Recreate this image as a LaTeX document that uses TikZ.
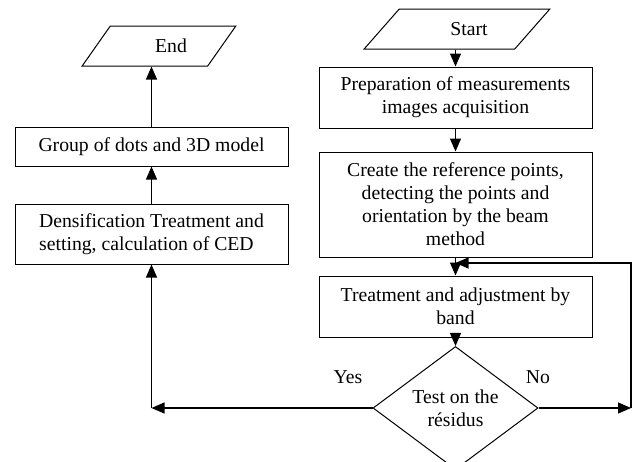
\documentclass[tikz,border=0pt]{standalone}
\usepackage{fontspec}
\setmainfont{Liberation Serif}
\usetikzlibrary{shapes.geometric,arrows.meta}

\begin{document}
\begin{tikzpicture}[x=1pt,y=-1pt,
		font=\fontsize{19.7}{23}\selectfont,
		box/.style={draw,line width=1pt,minimum width=273pt,inner sep=2pt,align=center},
		io/.style={draw,line width=1pt,trapezium,trapezium stretches=true,
			minimum height=40pt,inner sep=2pt},
		test/.style={draw,line width=1pt,diamond,minimum width=165pt,
			minimum height=101pt,inner sep=0pt,align=center},
		flow/.style={line width=1.1pt,-{Triangle[length=13pt,width=11pt]}}]
	\useasboundingbox (0,0) rectangle (636,461);

	%draw the right column
	\node[io,minimum width=186pt,trapezium left angle=41,trapezium right angle=139]
		(start) at (457,29) {\hspace*{24pt}Start};
	\node[box,minimum height=61pt] (prep) at (455.5,97.5)
		{Preparation of measurements\\images acquisition};
	\node[box,minimum height=105pt] (create) at (455.5,204.5)
		{Create the reference points,\\detecting the points and\\orientation by the beam\\method};
	\node[box,minimum height=61pt] (treat) at (455.5,306.5)
		{Treatment and adjustment by\\band};
	\node[test] (test) at (455.5,408) {Test on the\\résidus};

	%draw the left column
	\node[io,minimum width=154pt,trapezium left angle=46,trapezium right angle=134]
		(endio) at (159,46) {\hspace*{24pt}End};
	\node[box,minimum height=39pt] (group) at (151.5,146.5) {Group of dots and 3D model};
	\node[box,minimum height=60pt,align=left] (dens) at (151.5,234)
		{Densification Treatment and\\setting, calculation of CED};

	%draw the arrows
	\draw[flow] (start.south -| prep.north) -- (prep.north);
	\draw[flow] (prep.south) -- (create.north);
	\draw[flow] (create.south) -- (treat.north);
	\draw[flow] (treat.south) -- (test.north);
	\draw[flow] (dens.north) -- (group.south);
	\draw[flow] (group.north) -- (group.north |- endio.south);

	%draw the yes and no branches
	\coordinate (yes) at (151.5,408);
	\coordinate (no) at (631,408);
	\coordinate (back) at (631,263);
	\draw[flow] (test.west) -- (yes);
	\draw[flow] (yes) -- (yes |- dens.south);
	\draw[flow] (test.east) -- (no);
	\draw[flow] (no) -- (back) -- (back -| treat.north);
	\node (yeslbl) at (348,377) {Yes};
	\node (nolbl) at (538,377) {No};
\end{tikzpicture}
\end{document}
